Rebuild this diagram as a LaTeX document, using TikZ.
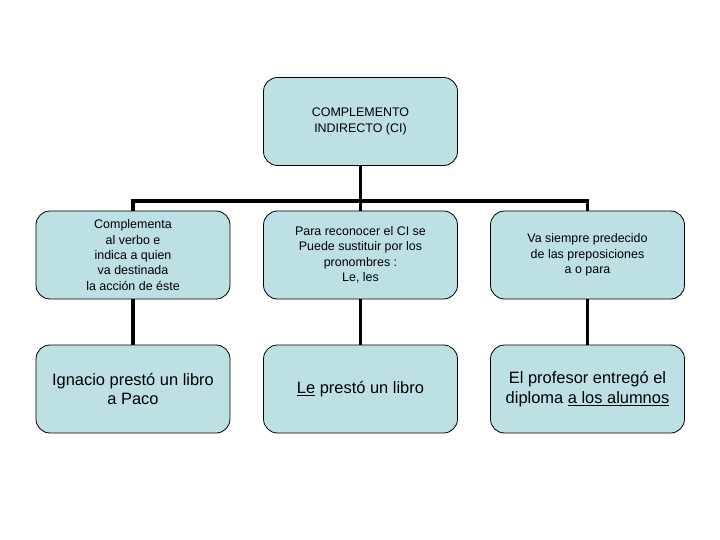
\documentclass[tikz,border=0pt]{standalone}
\usepackage{fontspec}
\setmainfont{Liberation Sans}
\definecolor{boxblue}{RGB}{189,224,228}
\tikzset{
  cibox/.style={draw=black, fill=boxblue, rounded corners=14bp, minimum width=194bp,
    minimum height=88bp, align=center, line width=0.8bp,
    font=\fontsize{12.5}{15.5}\selectfont},
  bigtext/.style={font=\fontsize{16.5}{20}\selectfont},
  link/.style={line width=3.5bp}
}
\begin{document}
\begin{tikzpicture}[x=1bp,y=-1bp]
    \useasboundingbox (0,0) rectangle (720,540);
    % top box
    \node[cibox] (ci) at (360.5,121.5) {COMPLEMENTO\\INDIRECTO (CI)};
    % second row
    \node[cibox] (def) at (133,255) {Complementa\\al verbo e\\indica a quien\\va destinada\\la acción de éste};
    \node[cibox] (pron) at (360.5,255) {Para reconocer el CI se\\Puede sustituir por los\\pronombres :\\Le, les};
    \node[cibox] (prep) at (587.5,255) {Va siempre predecido\\de las preposiciones\\a o para};
    % examples
    \node[cibox, bigtext] (ex1) at (133,389) {Ignacio prestó un libro\\a Paco};
    \node[cibox, bigtext] (ex2) at (360.5,389) {\underline{Le} prestó un libro};
    \node[cibox, bigtext] (ex3) at (587.5,389) {El profesor entregó el\\diploma \underline{a los alumnos}};
    % connectors
    \coordinate (bar) at (360.5,201);
    \draw[link] (ci.south) -- (pron.north);
    \draw[link] (def.north) |- (bar) -| (prep.north);
    \draw[link] (def.south) -- (ex1.north);
    \draw[link] (pron.south) -- (ex2.north);
    \draw[link] (prep.south) -- (ex3.north);
\end{tikzpicture}
\end{document}
